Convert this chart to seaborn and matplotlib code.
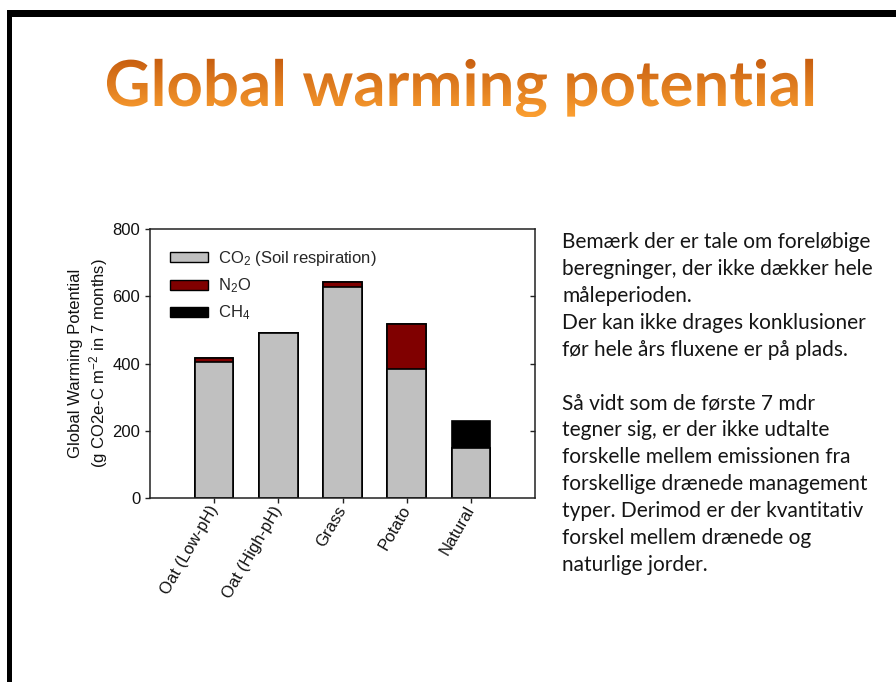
import matplotlib
matplotlib.use('Agg')
import matplotlib.pyplot as plt
import seaborn as sns
import numpy as np
from matplotlib.patches import Patch, Rectangle, PathPatch
from matplotlib.textpath import TextPath
from matplotlib.font_manager import FontProperties
from matplotlib.transforms import Affine2D
from matplotlib.colors import LinearSegmentedColormap

# dados
categorias = ['Oat (Low-pH)', 'Oat (High-pH)', 'Grass', 'Potato', 'Natural']
co2 = [403, 490, 627, 385, 148]
n2o = [12, 0, 14, 133, 0]
ch4 = [0, 0, 0, 0, 80]
legenda = ['CO$_2$ (Soil respiration)', 'N$_2$O', 'CH$_4$']
cores = ['#c0c0c0', '#800000', '#000000']

titulo = 'Global warming potential'
linhas_texto = [
    'Bemærk der er tale om foreløbige',
    'beregninger, der ikke dækker hele',
    'måleperioden.',
    'Der kan ikke drages konklusioner',
    'før hele års fluxene er på plads.',
    '',
    'Så vidt som de første 7 mdr',
    'tegner sig, er der ikke udtalte',
    'forskelle mellem emissionen fra',
    'forskellige drænede management',
    'typer. Derimod er der kvantitativ',
    'forskel mellem drænede og',
    'naturlige jorder.',
]

sns.set_theme(style='ticks')
plt.rcParams['font.family'] = ['Liberation Sans', 'DejaVu Sans']
plt.rcParams['mathtext.default'] = 'regular'

W, H = 896, 682
fig = plt.figure(figsize=(W / 100, H / 100), dpi=100)
fig.patch.set_facecolor('white')

# moldura do slide
fig.add_artist(Rectangle((7 / W, (H - 17) / H), 1, 7 / H, transform=fig.transFigure, color='black', lw=0))
fig.add_artist(Rectangle((7 / W, 0), 5 / W, (H - 10) / H, transform=fig.transFigure, color='black', lw=0))

# grafico de barras empilhadas
ax = fig.add_axes([150 / W, 184 / H, 385 / W, 269 / H])
total = np.array(co2) + np.array(n2o) + np.array(ch4)
co2_n2o = np.array(co2) + np.array(n2o)
sns.barplot(x=categorias, y=total, color=cores[2], width=0.6, edgecolor='black', linewidth=1.2, saturation=1, ax=ax)
sns.barplot(x=categorias, y=co2_n2o, color=cores[1], width=0.6, edgecolor='black', linewidth=1.2, saturation=1, ax=ax)
sns.barplot(x=categorias, y=co2, color=cores[0], width=0.6, edgecolor='black', linewidth=1.2, saturation=1, ax=ax)

fs = 12
ax.set_xlim(-1, 5)
ax.set_ylim(0, 800)
ax.set_yticks([0, 200, 400, 600, 800])
for s in ax.spines.values():
    s.set_visible(True)
    s.set_color('#222222')
    s.set_linewidth(1.1)
ax.tick_params(axis='both', direction='out', length=3.5, width=1, color='#222222', labelsize=fs, labelcolor='#111111')
ax.tick_params(axis='x', pad=3)
plt.setp(ax.get_xticklabels(), rotation=60, ha='right', va='center', rotation_mode='anchor')
sec = ax.secondary_yaxis('right')
sec.set_yticks([200, 400, 600])
sec.tick_params(direction='in', length=3.5, width=1, color='#222222', labelright=False)
sec.spines['right'].set_visible(False)
ax.set_xlabel('')
ax.set_ylabel('Global Warming Potential\n(g CO2e-C m$^{-2}$ in 7 months)', fontsize=fs, color='#111111', labelpad=2)

handles = [Patch(facecolor=c, edgecolor='black', linewidth=1) for c in cores]
ax.legend(handles, legenda, loc='upper left', frameon=False, fontsize=fs, handlelength=2.3, handleheight=0.55,
          handletextpad=0.6, labelspacing=0.5, bbox_to_anchor=(0.034, 0.95), borderaxespad=0)

# titulo com degrade laranja
fp = FontProperties(family='Lato', weight='bold')
tp = TextPath((0, 0), titulo, prop=fp, size=63.5)
bb = tp.get_extents()
cx, base = 460, H - 106
tr = Affine2D().translate(-(bb.x0 + bb.x1) / 2, 0).translate(cx, base)
path = tr.transform_path(tp)
tax = fig.add_axes([0, 0, 1, 1], zorder=5)
tax.set_xlim(0, W)
tax.set_ylim(0, H)
tax.axis('off')
pb = path.get_extents()
grad = np.linspace(0, 1, 100).reshape(-1, 1)
cmap = LinearSegmentedColormap.from_list('laranja', ['#fca031', '#c75e10'])
im = tax.imshow(grad, extent=[pb.x0, pb.x1, pb.y0, pb.y1], origin='lower', cmap=cmap, aspect='auto')
pp = PathPatch(path, facecolor='none', edgecolor='none', transform=tax.transData)
tax.add_patch(pp)
im.set_clip_path(pp)

# texto do lado direito
for i, linha in enumerate(linhas_texto):
    fig.text(562 / W, (H - 242 - i * 26.9) / H, linha, family=['Lato', 'DejaVu Sans'], fontsize=15,
             color='#151515', va='center', ha='left')

plt.savefig('out.png', dpi=100)
